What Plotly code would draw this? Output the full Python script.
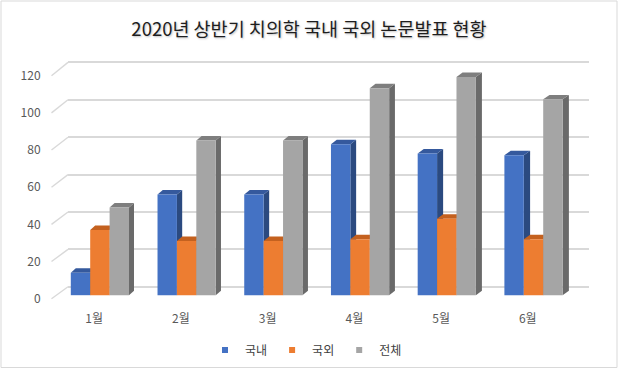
import plotly.graph_objects as go

# ---------------- data ----------------
months = ["1월", "2월", "3월", "4월", "5월", "6월"]
domestic = [12, 54, 54, 81, 76, 75]
foreign = [35, 29, 29, 30, 41, 30]
total = [47, 83, 83, 111, 117, 105]
series_names = ["국내", "국외", "전체"]
y_ticks = [0, 20, 40, 60, 80, 100, 120]
title_text = "2020년 상반기 치의학 국내 국외 논문발표 현황"

# ---------------- styling / layout constants ----------------
FONT = "Noto Sans CJK KR, Noto Sans, sans-serif"
front_colors = ["#4472C4", "#ED7D31", "#A5A5A5"]
top_colors = ["#35599D", "#C4611F", "#7E7E7E"]
side_colors = ["#2B4A80", "#A9521A", "#6A6A6A"]
grid_color = "#D9D9D9"
label_color = "#595959"

W, H = 618, 369
PL, PR, PT, PB = 68, 589, 55, 300          # plot box in pixels (back wall)
PX_PER_CAT = 86.72
CAT0_PX = 99.9
BAR_ZERO_PX, BAR_PPU = 295.2, 1.865         # front of bars
WALL_ZERO_PX, WALL_PPU = 286.8, 1.87        # back wall gridlines
LABEL_ZERO_PX, LABEL_PPU = 298.7, 1.858     # left wall front edge (labels)
BAR_PX = 19.4
BARGAP = 1 - 3 * BAR_PX / PX_PER_CAT
LABEL_SHIFT = -5.7 / PX_PER_CAT
DY_PX = 4.5


def yrange(zero_px, ppu):
    return [-(PB - zero_px) / ppu, (zero_px - PT) / ppu]


def px_to_paper(px, py):
    return (px - PL) / (PR - PL), (PB - py) / (PB - PT)


x_range = [-(CAT0_PX - PL) / PX_PER_CAT, (PR - CAT0_PX) / PX_PER_CAT]
xs = list(range(len(months)))

fig = go.Figure()

all_series = [domestic, foreign, total]
bar_w = (1 - BARGAP) / 3

for k, (name, vals) in enumerate(zip(series_names, all_series)):
    fig.add_trace(go.Bar(
        x=xs, y=vals, name=name, marker=dict(color=front_colors[k], line=dict(width=0)),
        showlegend=False, hovertemplate="%{y}<extra>" + name + "</extra>",
    ))

# legend entries (small square keys)
for k, name in enumerate(series_names):
    fig.add_trace(go.Scatter(
        x=[None], y=[None], mode="markers", name=name,
        marker=dict(symbol="square", size=6, color=front_colors[k]),
        hoverinfo="skip",
    ))

# 3D side and top faces derived from the data
shapes = []
dy = DY_PX / BAR_PPU
for k, vals in enumerate(all_series):
    for i, v in enumerate(vals):
        dx = (5.0 + 0.26 * i) / PX_PER_CAT
        c = i + (k - 1) * bar_w
        left, right = c - bar_w / 2, c + bar_w / 2
        side = f"M{right},0 L{right + dx},{dy} L{right + dx},{v + dy} L{right},{v} Z"
        top = f"M{left},{v} L{right},{v} L{right + dx},{v + dy} L{left + dx},{v + dy} Z"
        shapes.append(dict(type="path", path=side, xref="x", yref="y", layer="between",
                           fillcolor=side_colors[k], line=dict(width=0)))
        shapes.append(dict(type="path", path=top, xref="x", yref="y", layer="between",
                           fillcolor=top_colors[k], line=dict(width=0)))

# left wall diagonals from the tick values
for v in y_ticks:
    x0, y0 = px_to_paper(51.5, LABEL_ZERO_PX - v * LABEL_PPU)
    x1, y1 = px_to_paper(PL, WALL_ZERO_PX - v * WALL_PPU)
    shapes.append(dict(type="line", xref="paper", yref="paper", x0=x0, y0=y0, x1=x1, y1=y1,
                       line=dict(color=grid_color, width=1.4), layer="above"))

# chart border
bx0, by0 = px_to_paper(1, 1)
bx1, by1 = px_to_paper(617, 367.5)
shapes.append(dict(type="rect", xref="paper", yref="paper", x0=bx0, y0=by1, x1=bx1, y1=by0,
                   line=dict(color=grid_color, width=1), fillcolor="rgba(0,0,0,0)", layer="above"))

lx, ly = px_to_paper(306, 350)

fig.update_layout(
    template="none",
    width=W, height=H,
    margin=dict(l=PL, r=W - PR, t=PT, b=H - PB, pad=0, autoexpand=False),
    paper_bgcolor="white", plot_bgcolor="rgba(0,0,0,0)",
    barmode="group", bargap=BARGAP, bargroupgap=0,
    font=dict(family=FONT, size=12, color=label_color),
    title=dict(text=title_text, x=0.5, xref="container", xanchor="center",
               y=1 - 29.5 / H, yref="container", yanchor="middle", automargin=False,
               font=dict(family=FONT, size=18.5, color="#1E1E1E",
                         shadow="1px 1px 2px rgba(0,0,0,0.25)")),
    xaxis=dict(range=x_range, tickmode="array", automargin=False,
               tickvals=[x + LABEL_SHIFT for x in xs], ticktext=months,
               ticks="outside", ticklen=8, tickcolor="rgba(0,0,0,0)",
               showgrid=False, zeroline=False, showline=False, fixedrange=True,
               tickfont=dict(size=12, color=label_color)),
    yaxis=dict(range=yrange(BAR_ZERO_PX, BAR_PPU), showgrid=False, zeroline=False,
               showticklabels=False, showline=False, fixedrange=True, automargin=False),
    yaxis2=dict(range=yrange(WALL_ZERO_PX, WALL_PPU), overlaying="y", side="left",
                tickmode="array", tickvals=y_ticks, showticklabels=False, automargin=False,
                showgrid=True, gridcolor=grid_color, gridwidth=1.5,
                zeroline=False, showline=False, fixedrange=True),
    yaxis3=dict(range=yrange(LABEL_ZERO_PX, LABEL_PPU), overlaying="y", side="left",
                tickmode="array", tickvals=y_ticks, ticktext=[str(t) for t in y_ticks],
                ticks="outside", ticklen=24, tickcolor="rgba(0,0,0,0)", automargin=False,
                showgrid=False, zeroline=False, showline=False, fixedrange=True,
                tickfont=dict(size=12, color=label_color)),
    legend=dict(orientation="h", x=lx, xanchor="center", y=ly, yanchor="middle",
                font=dict(size=12, color="#404040"), bgcolor="rgba(0,0,0,0)",
                itemwidth=30, tracegroupgap=0),
    shapes=shapes,
)

# anchor invisible traces so the overlay axes are drawn
fig.add_trace(go.Scatter(x=[None], y=[None], yaxis="y2", showlegend=False, hoverinfo="skip"))
fig.add_trace(go.Scatter(x=[None], y=[None], yaxis="y3", showlegend=False, hoverinfo="skip"))

fig.write_html("out.html", config={"displayModeBar": False},
               post_script="document.body.style.margin='0';")
